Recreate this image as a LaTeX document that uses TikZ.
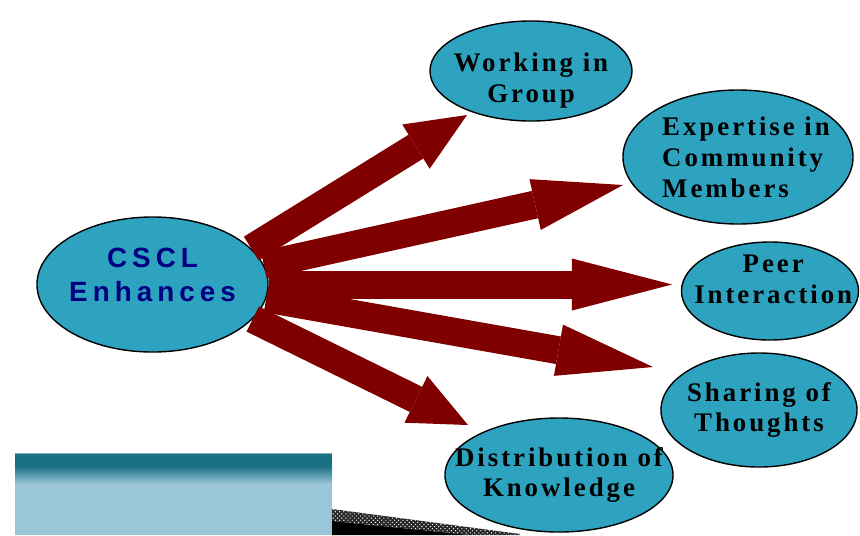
\documentclass[tikz,border=0pt]{standalone}
\usepackage{fontspec}
\setmainfont{Liberation Serif}
\newfontfamily\bubserif[LetterSpace=11]{Liberation Serif}
\newfontfamily\bubsans[LetterSpace=18]{Liberation Sans}
\usetikzlibrary{arrows.meta,shapes.geometric,patterns}
\definecolor{bubfill}{RGB}{46,163,192}
\definecolor{arrowred}{RGB}{128,0,0}
\definecolor{hubblue}{RGB}{0,0,128}
\definecolor{bardark}{RGB}{27,111,130}
\definecolor{barlight}{RGB}{154,198,216}
\tikzset{bubble/.style={ellipse,draw=black,line width=1pt,fill=bubfill,inner sep=0pt},
 bubtext/.style={font=\bubserif\bfseries\fontsize{19.1}{22}\selectfont,align=center,text=black},
 hubtext/.style={font=\bubsans\bfseries\fontsize{19.8}{24}\selectfont,align=center,text=hubblue},
 bigarrow/.style={draw=arrowred,line width=0.7cm,line cap=butt,line join=miter}}

\begin{document}
\begin{tikzpicture}[x=0.025cm,y=-0.025cm]
\useasboundingbox (0,0) rectangle (860,535);
\fill[bardark!55!white] (15,453) rectangle (332,454);
\fill[bardark] (15,454) rectangle (332,466);
\shade[top color=bardark,bottom color=barlight] (15,466) rectangle (332,484);
\fill[barlight] (15,484) rectangle (332,535);
\fill[black!85] (332,509) -- (520,534) -- (520,535) -- (470,535) -- (332,521) -- cycle;
\fill[pattern=crosshatch dots,pattern color=white] (332,509) -- (520,534) -- (520,535) -- (470,535) -- (332,521) -- cycle;
\fill[black] (332,521) -- (470,535) -- (332,535) -- cycle;
\node[bubble,minimum width=5.05cm,minimum height=2.5cm,
 label={[bubtext,yshift=-0.25cm]center:Working in\\Group}] (wig) at (531,71) {};
\node[bubble,minimum width=5.75cm,minimum height=3.35cm,
 label={[bubtext,align=left,xshift=0.2cm]center:Expertise in\\Community\\Members}] (expert) at (738,157) {};
\node[bubble,minimum width=4.425cm,minimum height=2.45cm,
 label={[bubtext,xshift=0.08cm,yshift=0.3cm]center:Peer\\Interaction}] (peer) at (770,291) {};
\node[bubble,minimum width=4.9cm,minimum height=2.85cm,
 label={[bubtext]center:Sharing of\\Thoughts}] (share) at (759,410) {};
\node[bubble,minimum width=5.7cm,minimum height=2.85cm,
 label={[bubtext]center:Distribution of\\Knowledge}] (distrib) at (559,475) {};
\node[bubble,minimum width=5.775cm,minimum height=3.375cm,
 label={[hubtext,yshift=0.24cm]center:CSCL\\Enhances}] (cscl) at (152.5,284.5) {};
\coordinate (tipA) at (467,115);
\coordinate (tipB) at (623,185);
\coordinate (tipC) at (672,284.5);
\coordinate (tipD) at (653,367);
\coordinate (tipE) at (468,425);
\draw[bigarrow,-{Triangle[length=1.5cm,width=1.3cm,line width=0pt]}] (cscl.20) -- (tipA);
\draw[bigarrow,-{Triangle[length=2.25cm,width=1.3cm,line width=0pt]}] (cscl.10) -- (tipB);
\draw[bigarrow,-{Triangle[length=2.5cm,width=1.3cm,line width=0pt]}] (cscl.0) -- (tipC);
\draw[bigarrow,-{Triangle[length=2.4cm,width=1.3cm,line width=0pt]}] (cscl.-7) -- (tipD);
\draw[bigarrow,-{Triangle[length=1.45cm,width=1.3cm,line width=0pt]}] (cscl.-19) -- (tipE);
\end{tikzpicture}
\end{document}
